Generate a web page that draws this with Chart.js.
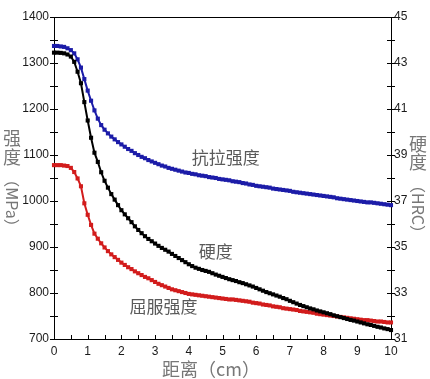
<!DOCTYPE html>
<html>
<head>
<meta charset="utf-8">
<script src="https://cdn.jsdelivr.net/npm/chart.js@4/dist/chart.umd.min.js"></script>
<style>
  body { margin: 0; background: #fff; }
  #wrap { width: 430px; height: 379px; }
</style>
</head>
<body>
<div id="wrap"><canvas id="maincanvas" width="430" height="379"></canvas></div>
<script>
// distance from quenched end, cm
var distance = [
  0.0,0.1,0.2,0.3,0.4,0.5,0.6,0.7,0.8,0.9,
  1.0,1.1,1.2,1.3,1.4,1.5,1.6,1.7,1.8,1.9,
  2.0,2.1,2.2,2.3,2.4,2.5,2.6,2.7,2.8,2.9,
  3.0,3.1,3.2,3.3,3.4,3.5,3.6,3.7,3.8,3.9,
  4.0,4.1,4.2,4.3,4.4,4.5,4.6,4.7,4.8,4.9,
  5.0,5.1,5.2,5.3,5.4,5.5,5.6,5.7,5.8,5.9,
  6.0,6.1,6.2,6.3,6.4,6.5,6.6,6.7,6.8,6.9,
  7.0,7.1,7.2,7.3,7.4,7.5,7.6,7.7,7.8,7.9,
  8.0,8.1,8.2,8.3,8.4,8.5,8.6,8.7,8.8,8.9,
  9.0,9.1,9.2,9.3,9.4,9.5,9.6,9.7,9.8,9.9,
  10.0
];

// 抗拉强度 MPa
var tensile = [
  1337,1337,1336,1335,1332,1328,1321,1308,1290,1265,
  1240,1218,1197,1179,1165,1155,1147,1140,1134,1128,
  1123,1118,1113,1109,1104,1100,1096,1093,1089,1086,
  1083,1080,1077,1075,1072,1070,1068,1066,1064,1062,
  1061,1059,1058,1056,1055,1054,1052,1051,1050,1048,
  1047,1046,1045,1043,1042,1041,1039,1038,1036,1035,
  1033,1032,1031,1030,1029,1027,1026,1025,1024,1023,
  1022,1020,1019,1018,1017,1016,1015,1014,1013,1012,
  1011,1010,1009,1008,1006,1005,1004,1003,1002,1001,
  1000,999,998,997,997,996,995,994,993,992,
  991
];

// 屈服强度 MPa
var yieldStr = [
  1078,1078,1078,1077,1076,1072,1063,1049,1032,995,
  970,948,929,918,908,899,891,884,878,872,
  866,861,856,852,847,843,839,835,832,828,
  824,820,817,814,811,808,806,804,802,800,
  798,797,796,795,794,793,792,791,790,789,
  788,787,786,786,785,784,783,782,781,779,
  778,777,775,774,773,771,770,769,767,766,
  765,764,763,761,760,759,758,757,755,754,
  753,752,751,750,749,748,747,746,745,744,
  743,742,741,741,740,739,738,738,737,736,
  736
];

// 硬度 HRC
var hardness = [
  43.45,43.45,43.44,43.42,43.37,43.28,43.05,42.62,42.12,41.3,
  40.5,39.75,39.1,38.7,38.25,37.88,37.58,37.3,37.06,36.82,
  36.6,36.42,36.25,36.08,35.9,35.74,35.6,35.47,35.35,35.25,
  35.15,35.05,34.96,34.88,34.8,34.7,34.61,34.52,34.43,34.34,
  34.25,34.17,34.1,34.05,34.0,33.96,33.92,33.86,33.8,33.75,
  33.7,33.65,33.6,33.56,33.52,33.47,33.43,33.38,33.33,33.28,
  33.22,33.16,33.1,33.04,32.99,32.94,32.89,32.84,32.78,32.73,
  32.66,32.6,32.54,32.48,32.43,32.38,32.33,32.29,32.24,32.2,
  32.16,32.12,32.08,32.03,31.99,31.95,31.91,31.87,31.83,31.8,
  31.76,31.72,31.68,31.64,31.61,31.57,31.53,31.5,31.46,31.43,
  31.39
];

var curveLabels = [
  { text: "抗拉强度", x: 5.1, y: 1095, axis: "y" },
  { text: "硬度", x: 4.8, y: 34.8, axis: "y1" },
  { text: "屈服强度", x: 3.25, y: 770, axis: "y" }
];

function pts(vals) {
  return distance.map(function (d, i) { return { x: d, y: vals[i] }; });
}

var titleFont = '"Noto Sans CJK SC", sans-serif';

var decor = {
  id: "decor",
  afterDraw: function (chart) {
    var ctx = chart.ctx, a = chart.chartArea;
    var sx = chart.scales.x, sy = chart.scales.y, sy1 = chart.scales.y1;
    ctx.save();
    ctx.strokeStyle = "#000";
    ctx.lineWidth = 1;
    ctx.beginPath();
    // top frame line
    ctx.moveTo(a.left, a.top + 0.5);
    ctx.lineTo(a.right, a.top + 0.5);
    sx.ticks.forEach(function (t) {
      var p = Math.round(sx.getPixelForValue(t.value)) + 0.5;
      ctx.moveTo(p, a.bottom);
      ctx.lineTo(p, a.bottom - 4);
    });
    sy.ticks.forEach(function (t) {
      var p = Math.round(sy.getPixelForValue(t.value)) + 0.5;
      ctx.moveTo(a.left - 4, p);
      ctx.lineTo(a.left + 4, p);
    });
    sy1.ticks.forEach(function (t) {
      var p = Math.round(sy1.getPixelForValue(t.value)) + 0.5;
      ctx.moveTo(a.right - 4, p);
      ctx.lineTo(a.right + 4, p);
    });
    ctx.stroke();

    ctx.fillStyle = "#777";
    ctx.textAlign = "center";
    ctx.textBaseline = "middle";
    ctx.font = "18px " + titleFont;
    // left title
    ctx.fillText("强", 12, 138);
    ctx.fillText("度", 12, 157);
    ctx.save();
    ctx.translate(12, 203);
    ctx.rotate(Math.PI / 2);
    ctx.font = "16px " + titleFont;
    ctx.fillText("（MPa）", 0, 0);
    ctx.restore();
    // right title
    ctx.fillText("硬", 418, 144);
    ctx.fillText("度", 418, 162);
    ctx.save();
    ctx.translate(418, 209);
    ctx.rotate(Math.PI / 2);
    ctx.font = "16px " + titleFont;
    ctx.fillText("（HRC）", 0, 0);
    ctx.restore();
    // x title
    ctx.font = "18px " + titleFont;
    ctx.fillText("距离（cm）", 211, 369);

    // curve labels
    ctx.fillStyle = "#5a5a5a";
    ctx.font = "17px " + titleFont;
    curveLabels.forEach(function (l) {
      ctx.fillText(l.text, sx.getPixelForValue(l.x), chart.scales[l.axis].getPixelForValue(l.y));
    });
    ctx.restore();
  }
};

var tickFont = { family: '"Liberation Sans", Arial, sans-serif', size: 12 };

function series(label, vals, axis, color) {
  return {
    label: label,
    data: pts(vals),
    yAxisID: axis,
    borderColor: color,
    backgroundColor: color,
    borderWidth: 2,
    pointStyle: "rect",
    pointRadius: 2.9,
    pointBorderWidth: 0,
    clip: false
  };
}

var mainchart = document.getElementById("maincanvas").getContext("2d");
var mainLineChart = new Chart(mainchart, {
  type: "line",
  data: {
    datasets: [
      series("硬度", hardness, "y1", "#000000"),
      series("抗拉强度", tensile, "y", "#1c1ca8"),
      series("屈服强度", yieldStr, "y", "#d21c1c")
    ]
  },
  options: {
    responsive: false,
    animation: false,
    devicePixelRatio: 1,
    layout: { padding: { top: 17, left: 0, right: 0, bottom: 0 } },
    plugins: { legend: { display: false }, tooltip: { enabled: false } },
    scales: {
      x: {
        type: "linear", min: 0, max: 10,
        grid: { display: false, drawTicks: false },
        border: { display: true, color: "#000", width: 1 },
        ticks: {
          stepSize: 0.5, autoSkip: false, maxRotation: 0, padding: 5,
          color: "#1a1a1a", font: tickFont,
          callback: function (v) { return v % 1 === 0 ? v : ""; }
        },
        afterFit: function (s) { s.height = 40; }
      },
      y: {
        position: "left", min: 700, max: 1400,
        grid: { display: false, drawTicks: false },
        border: { display: true, color: "#000", width: 1 },
        ticks: {
          stepSize: 50, autoSkip: false, padding: 5,
          color: "#1a1a1a", font: tickFont,
          callback: function (v) { return v % 100 === 0 ? v : ""; }
        },
        afterFit: function (s) { s.width = 54; }
      },
      y1: {
        position: "right", min: 31, max: 45,
        grid: { display: false, drawTicks: false },
        border: { display: true, color: "#000", width: 1 },
        ticks: {
          stepSize: 1, autoSkip: false, padding: 3,
          color: "#1a1a1a", font: tickFont,
          callback: function (v) { return v % 2 === 1 ? v : ""; }
        },
        afterFit: function (s) { s.width = 39; }
      }
    }
  },
  plugins: [decor]
});
</script>
</body>
</html>
